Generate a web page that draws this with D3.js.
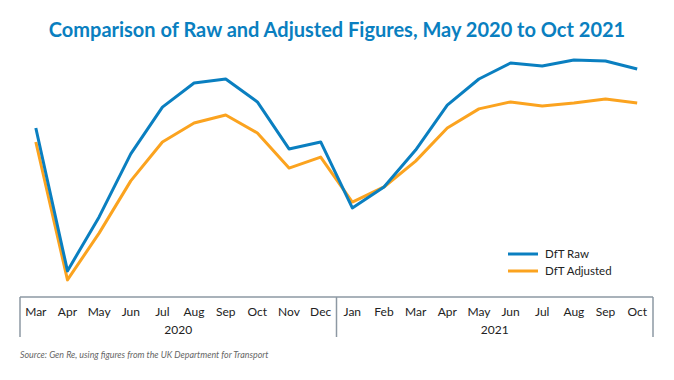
<!DOCTYPE html>
<html>
<head>
<meta charset="utf-8">
<script src="https://cdn.jsdelivr.net/npm/d3@7"></script>
<style>
  body { margin: 0; background: white; }
  text { font-family: Lato, "DejaVu Sans", sans-serif; }
</style>
</head>
<body>
<div id="chart"></div>
<script>
// Datos
const months = ["Mar", "Apr", "May", "Jun", "Jul", "Aug", "Sep", "Oct", "Nov", "Dec",
  "Jan", "Feb", "Mar", "Apr", "May", "Jun", "Jul", "Aug", "Sep", "Oct"];
const years = ["2020", "2021"];
const rawValues = [75.1, 11.6, 35.6, 63.6, 84.4, 95.1, 96.9, 86.7, 65.8, 68.9,
  39.6, 48.9, 65.3, 85.3, 96.9, 104, 102.7, 105.3, 104.9, 101.3];
const adjValues = [68.9, 7.6, 28.4, 51.6, 68.9, 77.3, 80.9, 72.9, 57.3, 62.2,
  42.2, 48.9, 60.4, 75.1, 83.6, 86.7, 84.9, 86.2, 88, 86.2];
const seriesNames = ["DfT Raw", "DfT Adjusted"];
const colors = ["#0a7fc0", "#fba31f"];

const width = 674, height = 380;
const left = 20, right = 653, axisY = 297;

const svg = d3.select("#chart").append("svg")
  .attr("width", width).attr("height", height);

// Título
svg.append("text")
  .attr("x", width / 2).attr("y", 37)
  .attr("text-anchor", "middle")
  .style("font-size", "20px").style("font-weight", "bold")
  .style("fill", "#0a7fc0")
  .text("Comparison of Raw and Adjusted Figures, May 2020 to Oct 2021");

const idx = d3.range(months.length);
const x = d3.scaleBand().domain(idx).range([left, right]).padding(0);
const y = d3.scaleLinear().domain([0, 120]).range([axisY, axisY - 270]);

// Líneas
const line = (vals) => d3.line()
  .x((d, i) => x(i) + x.bandwidth() / 2)
  .y((d) => y(d))(vals);

[adjValues, rawValues].forEach((vals, k) => {
  svg.append("path")
    .attr("d", line(vals))
    .attr("fill", "none")
    .attr("stroke", colors[1 - k])
    .attr("stroke-width", 3)
    .attr("stroke-linejoin", "round");
});

// Eje
const axisColor = "#8d98a3";
svg.append("line")
  .attr("x1", left).attr("x2", right)
  .attr("y1", axisY).attr("y2", axisY)
  .attr("stroke", axisColor).attr("stroke-width", 1.5);

const splits = [0, 10, 20];
svg.selectAll(".split").data(splits).enter().append("line")
  .attr("x1", (d) => (d === 20 ? right : x(d)))
  .attr("x2", (d) => (d === 20 ? right : x(d)))
  .attr("y1", axisY).attr("y2", 337)
  .attr("stroke", axisColor).attr("stroke-width", 1.5);

svg.selectAll(".month").data(months).enter().append("text")
  .attr("x", (d, i) => x(i) + x.bandwidth() / 2)
  .attr("y", 316)
  .attr("text-anchor", "middle")
  .style("font-size", "12px").style("fill", "#222")
  .text((d) => d);

svg.selectAll(".year").data(years).enter().append("text")
  .attr("x", (d, i) => (x(i * 10) + (i === 0 ? x(10) : right)) / 2)
  .attr("y", 334)
  .attr("text-anchor", "middle")
  .style("font-size", "12px").style("fill", "#222")
  .text((d) => d);

// Leyenda
const legend = svg.append("g").attr("transform", "translate(508,254)");
seriesNames.forEach((name, i) => {
  legend.append("line")
    .attr("x1", 0).attr("x2", 30)
    .attr("y1", i * 17).attr("y2", i * 17)
    .attr("stroke", colors[i]).attr("stroke-width", 3);
  legend.append("text")
    .attr("x", 37).attr("y", i * 17 + 4)
    .style("font-size", "11.5px").style("fill", "#222")
    .text(name);
});

// Fuente
svg.append("text")
  .attr("x", 20).attr("y", 358)
  .style("font-size", "8.9px").style("font-style", "italic")
  .style("fill", "#666")
  .text("Source: Gen Re, using figures from the UK Department for Transport");
</script>
</body>
</html>
